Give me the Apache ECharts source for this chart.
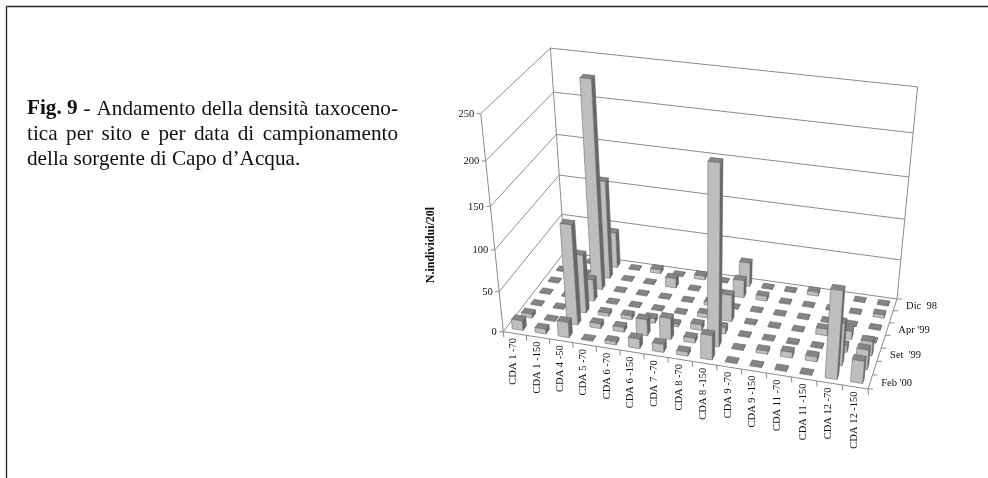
<!DOCTYPE html>
<html><head><meta charset="utf-8">
<style>html,body{margin:0;padding:0;background:#fff}#c{width:988px;height:478px}</style>
<script src="https://cdn.jsdelivr.net/npm/echarts@6/dist/echarts.min.js"></script>
</head><body><div id="c"></div>
<script>
const sites = ["CDA 1 -70","CDA 1 -150","CDA 4 -50","CDA 5 -70","CDA 6 -70","CDA 6 -150","CDA 7 -70","CDA 8 -70","CDA 8 -150","CDA 9 -70","CDA 9 -150","CDA 11 -70","CDA 11 -150","CDA 12 -70","CDA 12 -150"];
const dates = ["Feb '00","","Set  '99","","Apr '99","","Dic  98"];
const valueTicks = [0,50,100,150,200,250];
const yTitle = "N.individui/20l";
// one array per site, front row (Feb '00) to back row (Dic 98)
const s1_70  = [12,5,1,1,1,1,1];
const s1_150 = [6,1,1,1,1,1,1];
const s4_50  = [19,122,72,27,250,122,45];
const s5_70  = [1,6,4,1,1,1,1];
const s6_70  = [4,6,5,1,1,1,5];
const s6_150 = [12,20,6,1,1,12,1];
const s7_70  = [10,26,3,1,1,1,5];
const s8_70  = [5,6,7,5,4,1,1];
const s8_150 = [30,212,8,33,1,22,30];
const s9_70  = [1,1,1,1,1,6,1];
const s9_150 = [1,4,1,1,1,1,1];
const s11_70 = [1,7,1,1,1,1,5];
const s11_150= [1,6,1,8,1,1,1];
const s12_70 = [105,52,8,10,1,1,1];
const s12_150= [27,24,18,1,1,4,1];
const matrix = [s1_70,s1_150,s4_50,s5_70,s6_70,s6_150,s7_70,s8_70,s8_150,s9_70,s9_150,s11_70,s11_150,s12_70,s12_150];
const captionLines = [["Fig. 9","-","Andamento","della","densità","taxoceno-"],["tica","per","sito","e","per","data","di","campionamento"],["della","sorgente","di","Capo","d’Acqua."]];

// frame of the box on the page (the projection the axes pass through)
const FL=[503.3,331.7],FR=[868,389],BR=[897,299],BL=[564.5,252];
const FLt=[481,113],BLt=[550.3,46.7],BRt=[917.5,89];
function homography(){
  const [x0,y0]=FL,[x1,y1]=FR,[x2,y2]=BR,[x3,y3]=BL;
  const dx1=x1-x2,dx2=x3-x2,sx=x0-x1+x2-x3,dy1=y1-y2,dy2=y3-y2,sy=y0-y1+y2-y3;
  const det=dx1*dy2-dx2*dy1;
  const g=(sx*dy2-dx2*sy)/det,h=(dx1*sy-sx*dy1)/det;
  return {a:x1-x0+g*x1,b:x3-x0+h*x3,c:x0,d:y1-y0+g*y1,e:y3-y0+h*y3,f:y0,g,h};
}
const H=homography();
function solveC(){
  const pts=[[0,0,FLt],[0,1,BLt],[1,1,BRt]];
  const A=[],B=[];
  pts.forEach(([u,v,[X,Y]])=>{
    const p0=H.a*u+H.b*v+H.c,p1=H.d*u+H.e*v+H.f,p2=H.g*u+H.h*v+1;
    A.push([1,0,-X]);B.push(X*p2-p0);
    A.push([0,1,-Y]);B.push(Y*p2-p1);
  });
  const M=[[0,0,0,0],[0,0,0,0],[0,0,0,0]];
  A.forEach((r,k)=>{for(let i=0;i<3;i++){for(let j=0;j<3;j++)M[i][j]+=r[i]*r[j];M[i][3]+=r[i]*B[k];}});
  for(let i=0;i<3;i++){
    let p=i;for(let k=i+1;k<3;k++)if(Math.abs(M[k][i])>Math.abs(M[p][i]))p=k;
    [M[i],M[p]]=[M[p],M[i]];
    for(let k=0;k<3;k++)if(k!==i){const f=M[k][i]/M[i][i];for(let j=i;j<4;j++)M[k][j]-=f*M[i][j];}
  }
  return [M[0][3]/M[0][0],M[1][3]/M[1][1],M[2][3]/M[2][2]];
}
const C=solveC();
function proj(u,v,z){
  const w=H.g*u+H.h*v+1+z*C[2];
  return [(H.a*u+H.b*v+H.c+z*C[0])/w,(H.d*u+H.e*v+H.f+z*C[1])/w];
}
const zMax=valueTicks[valueTicks.length-1];
const serif='"Liberation Serif","Times New Roman",serif';
const gridCol='#8c8c8c';
function seg(a,b,col,lw){return {type:'line',shape:{x1:a[0],y1:a[1],x2:b[0],y2:b[1]},style:{stroke:col||gridCol,lineWidth:lw||1,fill:null},silent:true};}
function txt(t,x,y,opt){return {type:'text',x:x,y:y,rotation:opt.rot||0,silent:true,style:Object.assign({text:t,fill:'#111',font:(opt.bold?'bold ':'')+(opt.size||10.5)+'px '+serif,align:opt.align||'left',verticalAlign:'middle'})};}

function renderFrame(params,api){
  const ch=[];
  valueTicks.forEach(t=>{
    const z=t/zMax;
    const a=proj(0,0,z),b=proj(0,1,z),c=proj(1,1,z);
    ch.push(seg(a,b),seg(b,c));
    ch.push(seg([a[0]-4,a[1]],a));
    ch.push(txt(String(t),a[0]-6.5,a[1]+0.5,{align:'right'}));
  });
  ch.push(seg(proj(0,0,0),proj(0,0,1)),seg(proj(0,1,0),proj(0,1,1)),seg(proj(1,1,0),proj(1,1,1)));
  ch.push(seg(proj(0,0,0),proj(1,0,0)),seg(proj(1,0,0),proj(1,1,0)));
  const n=sites.length,m=dates.length;
  for(let i=0;i<=n;i++){const p=proj(i/n,0,0);ch.push(seg(p,[p[0]+0.5,p[1]+5.5]));}
  sites.forEach((s,i)=>{const p=proj((i+0.5)/n,0,0);ch.push(txt(s,p[0]-1,p[1]+4.5,{align:'right',rot:Math.PI/2}));});
  for(let j=0;j<=m;j++){const p=proj(1,j/m,0);ch.push(seg(p,[p[0]+5,p[1]]));}
  dates.forEach((d,j)=>{if(!d)return;const p=proj(1,(j+0.5)/m,0);ch.push(txt(d,p[0]+11,p[1]+1,{}));});
  ch.push(txt(yTitle,431,245,{bold:true,size:12,align:'center',rot:Math.PI/2}));
  return {type:'group',children:ch};
}
const barW=0.47,barD=0.38;
function renderBar(params,api){
  const i=api.value(0),j=api.value(1),val=api.value(2);
  const c=api.coord([i,j]),sz=api.size([1,1]),g=params.coordSys;
  const u=(c[0]-g.x)/g.width,v=1-(c[1]-g.y)/g.height;
  const hu=sz[0]/g.width*barW/2,hv=sz[1]/g.height*barD/2,z=val/zMax;
  const u0=u-hu,u1=u+hu,v0=v-hv,v1=v+hv;
  const poly=(pts,fill)=>({type:'polygon',shape:{points:pts},style:{fill:fill,stroke:'#606060',lineWidth:0.5}});
  return {type:'group',children:[
    poly([proj(u1,v0,0),proj(u1,v1,0),proj(u1,v1,z),proj(u1,v0,z)],'#686868'),
    poly([proj(u0,v0,z),proj(u1,v0,z),proj(u1,v1,z),proj(u0,v1,z)],'#858585'),
    poly([proj(u0,v0,0),proj(u1,v0,0),proj(u1,v0,z),proj(u0,v0,z)],'#bebebe')
  ]};
}
const barData=[];
for(let j=dates.length-1;j>=0;j--){for(let i=0;i<sites.length;i++){barData.push([i,j,matrix[i][j]]);}}

const measure=document.createElement('canvas').getContext('2d');
const capSize=21.2;
function capFont(b){return (b?'bold ':'')+capSize+'px '+serif;}
function captionElements(){
  const out=[],left=27,right=398,ys=[109,134,159.5];
  captionLines.forEach((words,l)=>{
    const w=words.map((t,k)=>{measure.font=capFont(l===0&&k===0);return measure.measureText(t).width;});
    const sum=w.reduce((a,b)=>a+b,0);
    const gap=l<2?(right-left-sum)/(words.length-1):capSize*0.25;
    let x=left;
    words.forEach((t,k)=>{
      out.push({type:'text',x:x,y:ys[l],silent:true,style:{text:t,font:capFont(l===0&&k===0),fill:'#111',verticalAlign:'middle'}});
      x+=w[k]+gap;
    });
  });
  return out;
}
const chart=echarts.init(document.getElementById('c'),null,{renderer:'canvas'});
chart.setOption({
  animation:false,
  backgroundColor:'#fff',
  grid:{left:0,top:0,width:988,height:478,show:false},
  xAxis:{type:'category',data:sites,show:false},
  yAxis:{type:'category',data:dates.map((d,j)=>d||('r'+j)),show:false},
  graphic:{elements:[
    {type:'line',silent:true,shape:{x1:6.5,y1:6.5,x2:988,y2:6.5},style:{stroke:'#222',lineWidth:1.3}},
    {type:'line',silent:true,shape:{x1:6.5,y1:6.5,x2:6.5,y2:478},style:{stroke:'#222',lineWidth:1.3}}
  ].concat(captionElements())},
  series:[
    {type:'custom',name:'frame',coordinateSystem:'cartesian2d',data:[[0,0]],renderItem:renderFrame,z:1,silent:true},
    {type:'custom',name:'N.individui/20l',coordinateSystem:'cartesian2d',data:barData,renderItem:renderBar,z:2,encode:{x:0,y:1},silent:true}
  ]
});
</script></body></html>
